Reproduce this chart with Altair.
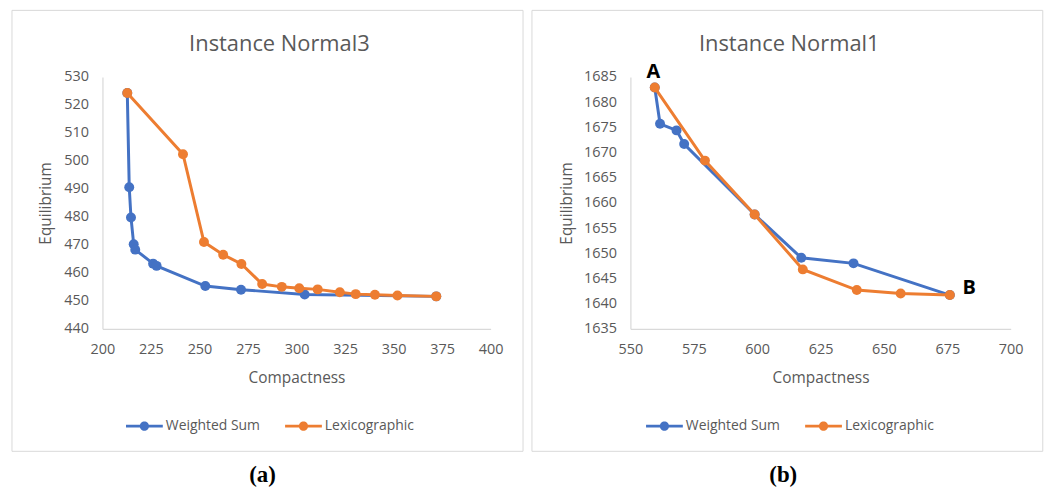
import altair as alt
import pandas as pd

# ---- data ----
series_names = ["Weighted Sum", "Lexicographic"]
series_colors = ["#4472C4", "#ED7D31"]

# (a) Instance Normal3
n3_ws_x = [212.8, 213.8, 214.7, 216.1, 216.9, 226.1, 227.9, 253.0, 271.4, 304.2, 372.0]
n3_ws_y = [524.3, 490.6, 479.8, 470.2, 468.3, 463.3, 462.5, 455.3, 454.0, 452.3, 451.6]
n3_lx_x = [212.8, 241.5, 252.3, 262.2, 271.6, 282.3, 292.4, 301.4, 310.9, 322.3, 330.5, 340.4, 352.0, 372.0]
n3_lx_y = [524.3, 502.4, 471.0, 466.5, 463.2, 456.0, 455.0, 454.5, 454.1, 453.1, 452.4, 452.2, 451.9, 451.6]

# (b) Instance Normal1
n1_ws_x = [559.6, 561.7, 568.2, 571.2, 599.0, 617.4, 638.0, 676.0]
n1_ws_y = [1682.9, 1675.7, 1674.4, 1671.7, 1657.7, 1649.1, 1648.0, 1641.7]
n1_lx_x = [559.6, 579.4, 599.0, 618.0, 639.3, 656.6, 676.0]
n1_lx_y = [1682.9, 1668.4, 1657.7, 1646.8, 1642.7, 1642.0, 1641.7]

titles = ["Instance Normal3", "Instance Normal1"]
captions = ["(a)", "(b)"]
x_title = "Compactness"
y_title = "Equilibrium"
n3_x_ticks = [200, 225, 250, 275, 300, 325, 350, 375, 400]
n3_y_ticks = [440, 450, 460, 470, 480, 490, 500, 510, 520, 530]
n1_x_ticks = [550, 575, 600, 625, 650, 675, 700]
n1_y_ticks = [1635, 1640, 1645, 1650, 1655, 1660, 1665, 1670, 1675, 1680, 1685]
point_labels = ["A", "B"]

FONT = "Open Sans"
GREY = "#595959"
LIGHT = "#d9d9d9"


def table(ws_x, ws_y, lx_x, lx_y):
    rows = []
    for name, xs, ys in [(series_names[0], ws_x, ws_y), (series_names[1], lx_x, lx_y)]:
        for i, (a, b) in enumerate(zip(xs, ys)):
            rows.append({"series": name, "x": a, "y": b, "i": i})
    return pd.DataFrame(rows)


LEGEND_PATH = ("M-1,-0.075 H1 V0.075 H-1 Z "
               "M-0.25,0 A0.25,0.25 0 1,1 0.25,0 A0.25,0.25 0 1,1 -0.25,0 Z")


def panel(df, xdom, xticks, ydom, yticks, w, h, frame_x, frame_x2,
          title, title_x, caption, caption_x, legend_x, ytitle_x, extra=None):
    one = alt.Data(values=[{}])
    frame = alt.Chart(one).mark_rect(filled=False, stroke=LIGHT, strokeWidth=1).encode(
        x=alt.value(frame_x), x2=alt.value(frame_x2), y=alt.value(-67), y2=alt.value(376.5))
    ttl = alt.Chart(one).mark_text(font=FONT, fontSize=22, color=GREY, align="center",
                                   baseline="middle").encode(
        x=alt.value(title_x), y=alt.value(-33), text=alt.value(title))
    cap = alt.Chart(one).mark_text(font="Liberation Serif", fontSize=23, fontWeight="bold",
                                   color="black", align="center", baseline="middle").encode(
        x=alt.value(caption_x), y=alt.value(400), text=alt.value(caption))

    xenc = alt.X("x:Q", scale=alt.Scale(domain=xdom, nice=False, zero=False),
                 axis=alt.Axis(values=xticks, tickCount=len(xticks) + 2, format="d",
                               title=x_title, grid=False, ticks=False,
                               domainColor=LIGHT, domainWidth=1.2, labelFont=FONT, labelFontSize=14.5,
                               labelColor=GREY, labelPadding=14, labelFlush=False, labelOverlap=False,
                               titleFont=FONT, titleFontSize=15.5, titleColor=GREY,
                               titleFontWeight="normal", titleX=w / 2, titleY=49,
                               titleBaseline="middle", titleAlign="center"))
    yenc = alt.Y("y:Q", scale=alt.Scale(domain=ydom, nice=False, zero=False),
                 axis=alt.Axis(values=yticks, tickCount=len(yticks) + 2, format="d",
                               title=y_title, grid=False, ticks=False,
                               domainColor=LIGHT, domainWidth=1.2, labelFont=FONT, labelFontSize=14.5,
                               labelColor=GREY, labelPadding=14, labelFlush=False, labelOverlap=False,
                               labelBound=False, labelSeparation=0,
                               titleFont=FONT, titleFontSize=15.5, titleColor=GREY,
                               titleFontWeight="normal", titleX=ytitle_x, titleY=h / 2,
                               titleBaseline="middle", titleAlign="center", titleAngle=270))
    legend = alt.Legend(orient="none", legendX=legend_x, legendY=332.5, direction="horizontal",
                        title=None, symbolType=LEGEND_PATH, symbolSize=1369, symbolStrokeWidth=0,
                        symbolOpacity=1, labelFont=FONT, labelFontSize=14, labelColor=GREY,
                        labelOffset=3, columnPadding=25, padding=0)
    cenc = alt.Color("series:N", scale=alt.Scale(domain=series_names, range=series_colors),
                     legend=legend)

    base = alt.Chart(df)
    layers = [frame, ttl, cap]
    for name in series_names:
        sub = base.transform_filter(alt.datum.series == name)
        layers.append(sub.mark_line(strokeWidth=3).encode(
            x=xenc, y=yenc, color=cenc, order="i:Q"))
        layers.append(sub.mark_point(filled=True, size=100, opacity=1).encode(
            x=xenc, y=yenc, color=cenc))
    if extra:
        layers += extra
    return alt.layer(*layers).properties(width=w, height=h)


df3 = table(n3_ws_x, n3_ws_y, n3_lx_x, n3_lx_y)
df1 = table(n1_ws_x, n1_ws_y, n1_lx_x, n1_lx_y)

one = alt.Data(values=[{}])
ann_style = dict(font=FONT, fontSize=20, fontWeight="bold", color="black",
                 align="center", baseline="middle")
ann_a = alt.Chart(one).mark_text(dx=-1.5, dy=-16, **ann_style).encode(
    x=alt.datum(n1_lx_x[0]), y=alt.datum(n1_lx_y[0]), text=alt.value(point_labels[0]))
ann_b = alt.Chart(one).mark_text(dx=19.5, dy=-7, **ann_style).encode(
    x=alt.datum(n1_lx_x[-1]), y=alt.datum(n1_lx_y[-1]), text=alt.value(point_labels[1]))

left = panel(df3, [200, 400], n3_x_ticks, [440, 530], n3_y_ticks, 390.4, 253.3,
             -91, 423, titles[0], 178, captions[0], 161, 23.7, -57)
right = panel(df1, [550, 700], n1_x_ticks, [1635, 1685], n1_y_ticks, 382.5, 253.3,
              -99, 414.75, titles[1], 159.75, captions[1], 153.75, 15.75, -64,
              extra=[ann_a, ann_b])

chart = alt.hconcat(left, right, spacing=7).resolve_scale(
    color="independent", x="independent", y="independent"
).resolve_legend(color="independent").properties(
    padding={"left": 3, "top": 0, "right": 0, "bottom": 0}
).configure_view(stroke=None).configure_axis(labelOverlap=False)

chart.save("out.html", embed_options={"renderer": "svg", "actions": False})
